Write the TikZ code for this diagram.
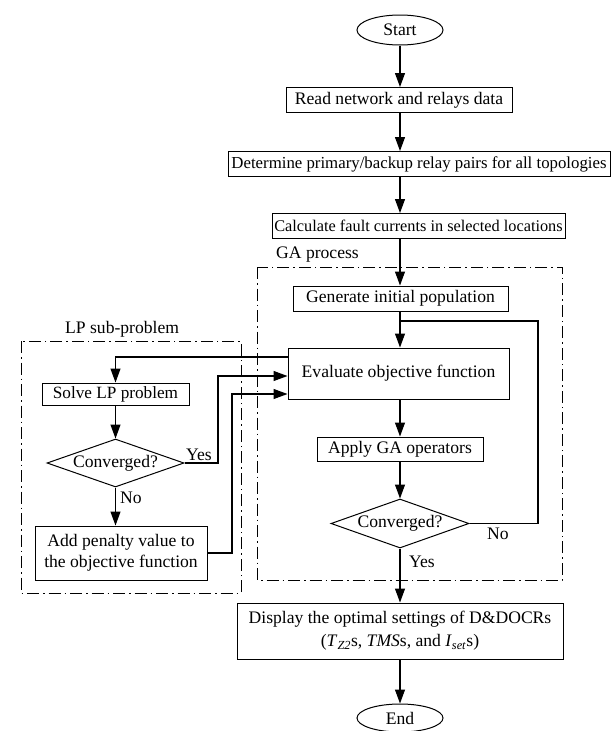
\documentclass[tikz,border=0pt]{standalone}
\usepackage{fontspec}
\setmainfont{Liberation Serif}
\usetikzlibrary{arrows.meta,shapes.geometric}
\begin{document}
\begin{tikzpicture}[x=1pt,y=-1pt,
  txt/.style={font=\fontsize{17.6}{21}\selectfont, inner sep=0pt},
  box/.style={txt, draw, line width=1pt, rectangle, align=center},
  term/.style={txt, draw, line width=1pt, ellipse},
  dec/.style={txt, draw, line width=1pt, diamond, aspect=2.8},
  conn/.style={line width=1.1pt},
  arr/.style={conn, -{Triangle[length=14pt,width=10pt]}},
  region/.style={draw, line width=0.9pt, dash pattern=on 12pt off 4pt on 1.5pt off 4pt},
]
\useasboundingbox (0,0) rectangle (612,731);
\fill[white] (0,0) rectangle (612,731);

% regions
\draw[region] (257,267) rectangle (562,580);
\draw[region] (21,341) rectangle (241,593);
\node[txt, anchor=base west] (galbl) at (276,258) {GA process};
\node[txt, anchor=base west] (lplbl) at (65,333) {LP sub-problem};

\coordinate (col) at (400,0);
\node[term, minimum width=86pt, minimum height=30pt] (start) at (400,30) {Start};
\node[box, minimum width=226pt, minimum height=25pt] (read) at (399,100) {Read network and relays data};
\node[box, minimum width=382pt, minimum height=25pt, font=\fontsize{16.8}{21}\selectfont] (det) at (419,164) {Determine primary/backup relay pairs for all topologies};
\node[box, minimum width=293pt, minimum height=25pt, font=\fontsize{16.3}{21}\selectfont] (calc) at (418.5,226) {Calculate fault currents in selected locations};
\node[box, minimum width=215pt, minimum height=25pt] (gen) at (400.5,298.5) {Generate initial population};
\node[box, minimum width=221pt, minimum height=51pt] (eval) at (398.5,373.5) {Evaluate objective function};
\node[box, minimum width=166pt, minimum height=24pt] (apply) at (400,449) {Apply GA operators};
\node[dec, minimum width=138pt, minimum height=49pt] (gadec) at (400,523.5) {Converged?};
\node[box, minimum width=326pt, minimum height=56pt, font=\fontsize{17.6}{23}\selectfont] (disp) at (400,631) {Display the optimal settings of D\&DOCRs\\(\textit{T}\textsubscript{\textit{Z2}}s, \textit{TMS}s, and \textit{I}\textsubscript{\textit{set}}s)};
\node[term, minimum width=86pt, minimum height=28pt] (end) at (400,718) {End};

\node[box, minimum width=147pt, minimum height=22pt, font=\fontsize{17.2}{21}\selectfont] (solve) at (115.5,394) {Solve LP problem};
\node[dec, minimum width=137pt, minimum height=48pt] (lpdec) at (115.5,463) {Converged?};
\node[box, minimum width=172pt, minimum height=54pt] (pen) at (121,553) {Add penalty value to\\the objective function};

\node[txt, anchor=base west] (lpyes) at (186,460) {Yes};
\node[txt, anchor=base west] (lpno) at (120,503) {No};
\node[txt, anchor=base west] (gano) at (487,539) {No};
\node[txt, anchor=base west] (gayes) at (409,567) {Yes};

% main column
\draw[arr] (col |- start.south) -- (col |- read.north);
\draw[arr] (col |- read.south) -- (col |- det.north);
\draw[arr] (col |- det.south) -- (col |- calc.north);
\draw[arr] (col |- calc.south) -- (col |- gen.north);
\draw[arr] (col |- gen.south) -- (col |- eval.north);
\draw[arr] (col |- eval.south) -- (col |- apply.north);
\draw[arr] (col |- apply.south) -- (col |- gadec.north);
\draw[arr] (col |- gadec.south) -- (col |- disp.north);
\draw[arr] (col |- disp.south) -- (col |- end.north);

% GA loop
\coordinate (loop) at (538,321);
\draw[conn] (gadec.east) -| (loop) -- (col |- loop);

% LP links
\coordinate (lpin) at (115.5,357);
\draw[arr] (eval.west |- lpin) -| (solve.north);
\draw[arr] (solve) -- (lpdec);
\draw[arr] (lpdec.south) -- (lpdec.south |- pen.north);
\coordinate (yesc) at (218,376);
\draw[arr] (lpdec.east) -| (yesc) -- (eval.west |- yesc);
\coordinate (penc) at (232,394);
\draw[arr] (pen.east) -| (penc) -- (eval.west |- penc);
\end{tikzpicture}
\end{document}
